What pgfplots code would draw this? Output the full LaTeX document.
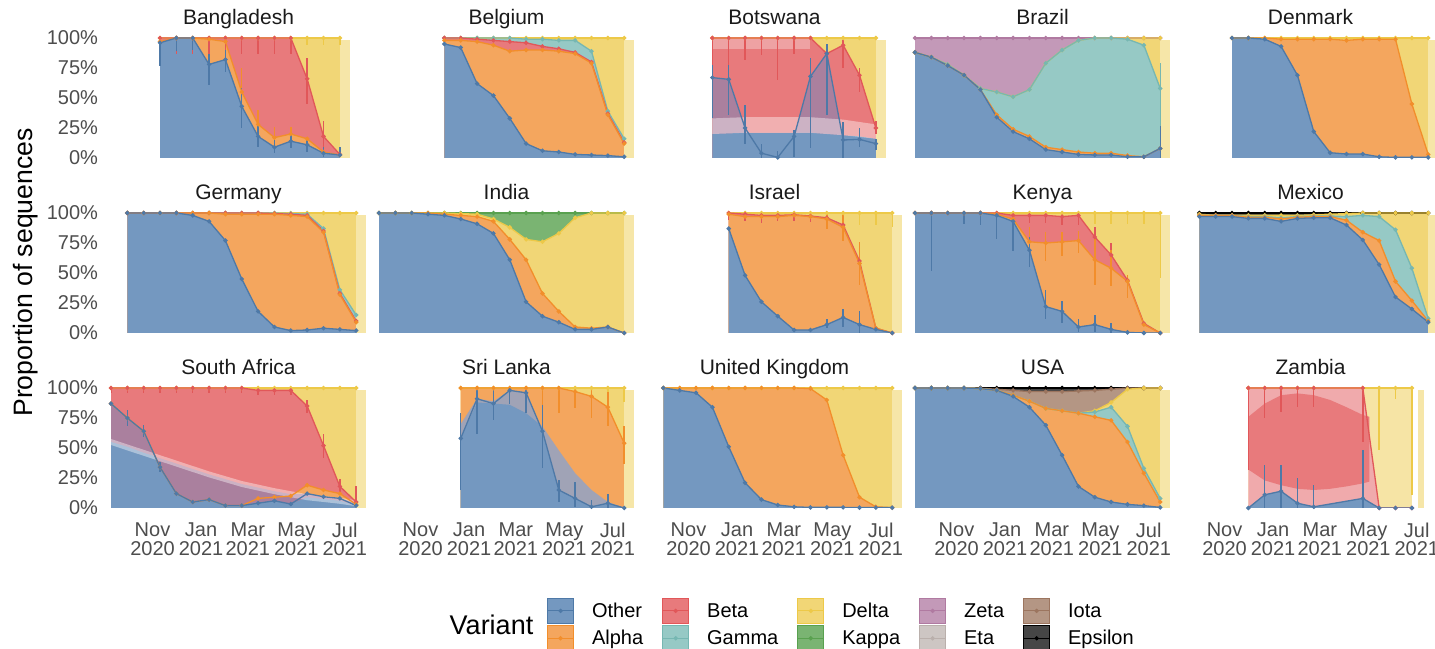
\documentclass[border=0pt]{standalone}
\usepackage{fontspec}
\setmainfont{Liberation Sans}
\usepackage{pgfplots}
\usepackage{pgfplotstable}
\pgfplotsset{compat=1.18}

\definecolor{oF}{RGB}{116,152,192}\definecolor{oL}{RGB}{78,121,167}
\definecolor{aF}{RGB}{244,166,94}\definecolor{aL}{RGB}{242,142,43}
\definecolor{bF}{RGB}{232,122,124}\definecolor{bL}{RGB}{225,87,89}
\definecolor{gF}{RGB}{150,201,197}\definecolor{gL}{RGB}{118,183,178}
\definecolor{dF}{RGB}{241,214,118}\definecolor{dL}{RGB}{237,201,72}
\definecolor{dS}{RGB}{246,230,168}
\definecolor{kF}{RGB}{122,180,114}\definecolor{kL}{RGB}{89,161,79}
\definecolor{zF}{RGB}{195,153,184}\definecolor{zL}{RGB}{176,122,161}
\definecolor{eF}{RGB}{205,198,195}\definecolor{eL}{RGB}{186,176,172}
\definecolor{iF}{RGB}{180,150,132}\definecolor{iL}{RGB}{156,117,95}
\definecolor{xF}{RGB}{70,70,70}\definecolor{xL}{RGB}{0,0,0}
\definecolor{obF}{RGB}{170,128,158}
\definecolor{slF}{RGB}{160,163,182}
\definecolor{bZ}{RGB}{240,170,172}
\definecolor{dZ}{RGB}{246,228,165}
\definecolor{tickgray}{RGB}{77,77,77}
\definecolor{titleblk}{RGB}{26,26,26}

\pgfplotsset{
 panel/.style={scale only axis, width=127.5pt, height=60pt, xmin=0, xmax=15.6, ymin=0, ymax=100,
   anchor=south west, axis line style={draw=none}, tick style={draw=none}, major tick length=0pt,
   xtick=\empty, ytick=\empty, clip=true,
   title style={at={(0.5,1)}, anchor=base, yshift=0.5pt, font=\fontsize{10.5}{12}\selectfont, text=titleblk},
   /pgf/number format/assume math mode=true},
 ylab/.style={ytick={0,25,50,75,100}, yticklabels={0\%,25\%,50\%,75\%,100\%},
   yticklabel style={font=\fontsize{10}{12}\selectfont, text=tickgray, xshift=-3pt}},
 xlab/.style={xtick={2.54,5.51,8.37,11.34,14.3},
   xticklabels={{Nov\\2020},{Jan\\2021},{Mar\\2021},{May\\2021},{Jul\\2021}},
   xticklabel style={align=center, font=\fontsize{10}{9.2}\selectfont, text=tickgray, yshift=-4pt}},
}
\newcommand\Fl[3]{\addplot[draw=none,fill=#2] table[x=k,y=#3]{#1}\closedcycle;}
\newcommand\Ll[3]{\addplot[color=#2,line width=0.65pt,mark=*,mark size=0.75pt] table[x=k,y=#3]{#1};}
\newcommand\Strip[2]{\addplot[draw=none,fill=dS] coordinates {(#1,98)(#2,98)}\closedcycle;}
\newcommand\Eb[2]{\addplot[draw=none, mark=none, error bars/.cd, y dir=both, y explicit, error mark=none, error bar style={draw=#2, line width=0.7pt}] table[x=k,y=y,y error plus=p,y error minus=m]{#1};}
\newcommand\Key[2]{\addlegendimage{legend image code/.code={\filldraw[fill=#1,draw=#2,line width=0.4pt] (0pt,-3pt) rectangle (13pt,9.5pt); \draw[#2,line width=0.5pt] (0pt,3.25pt) -- (13pt,3.25pt); \fill[#2] (6.5pt,3.25pt) circle (0.9pt);}}}

\pgfplotstableread{
k O A B T
3 96 97 100 100
4 100 100 100 100
5 100 100 100 100
6 78 99 100 100
7 82 97 100 100
8 43 55 100 100
9 18 28 100 100
10 9 17 100 100
11 14 20 100 100
12 11 16 66 100
13 4 5 18 100
14 2.5 2.5 3 100
}\tBGD
\pgfplotstableread{
k y p m
3 96 1 19
4 100 0 11
5 100 0 10
6 78 9 17
7 82 8 10
8 43 15 18
9 18 11 9
10 9 6 5
11 14 5 6
12 11 4 6
13 4 5 3
14 2.5 7 2
}\eBGDo
\pgfplotstableread{
k y p m
8 55 20 15
9 28 12 8
10 17 9 4
11 20 6 5
}\eBGDa
\pgfplotstableread{
k y p m
3 100 0 13
4 100 0 13
5 100 0 13
6 100 0 13
7 100 0 13
8 100 0 13
9 100 0 13
10 100 0 13
11 100 0 13
12 66 17 21
13 18 13 9
}\eBGDb
\pgfplotstableread{
k y p m
11 100 0 6
12 100 0 6
13 100 0 6
14 100 0 6
}\eBGDt
\pgfplotstableread{
k O A B G T
4 95 98 100 100 100
5 92 98 100 100 100
6 62 97 99 100 100
7 52 94 98 100 100
8 33 89 97 100 100
9 12 90 96 99 100
10 6 90 93 99 100
11 5 89 91 98 100
12 3 87 88 98 100
13 2.5 79 80 89 100
14 2 36 37 39 100
15 1 12 13 16 100
}\tBEL
\pgfplotstableread{
k O B T
4 67 100 100
5 65.5 100 100
6 25 100 100
7 4 100 100
8 0.5 100 100
9 18 100 100
10 68 100 100
11 87 87 100
12 15 94 100
13 15.5 69 100
14 12 25 100
}\tBWA
\pgfplotstableread{
k y p m
4 67 10.5 34
5 65.5 12 29.5
6 25 19 13
7 4 8 4
8 0.5 5 0.5
9 18 5 17
10 68 15 60
11 87 8 51
12 15 15 15
13 15.5 9.5 6.5
14 12 4 5
}\eBWAo
\pgfplotstableread{
k y p m
4 100 0 30
5 100 0 64
6 100 0 18
7 100 0 14
8 100 0 35
9 100 0 13
12 94 4 19
13 69 6 14
14 25 6 5
}\eBWAb
\pgfplotstableread{
k O A G D T
0 88 88 88 88 100
1 84 84 84 84 100
2 77 77 78 78 100
3 69 69 69 69 100
4 57 57 58 58 100
5 34 36 55 55 100
6 22 24 51 51 100
7 16 18 57 57 100
8 7 9 79 79 100
9 5 7 90 90 100
10 3 5 98 98 100
11 2.5 4 100 100 100
12 2.5 4 100 100 100
13 1 2 99 100 100
14 1 1 94 100 100
15 8 8 58 100 100
}\tBRA
\pgfplotstableread{
k y p m
15 8 19 8
}\eBRAo
\pgfplotstableread{
k y p m
15 58 21 35
}\eBRAg
\pgfplotstableread{
k O A T
3 100 100 100
4 100 100 100
5 99 100 100
6 93 99 100
7 69 99 100
8 22 99 100
9 4.4 99 100
10 3.3 98 100
11 3.3 99 100
12 1 99 100
13 0.5 99 100
14 0.5 45 100
15 0.5 3 100
}\tDNK
\pgfplotstableread{
k O A B G T
1 100 100 100 100 100
2 100 100 100 100 100
3 100 100 100 100 100
4 100 100 100 100 100
5 98 100 100 100 100
6 93 100 100 100 100
7 77 99 100 100 100
8 45 99 100 100 100
9 18 99 100 100 100
10 5 99 99.5 100 100
11 2 98 99 99.5 100
12 2.5 97 98 99 100
13 4 84 85 87 100
14 3 32 33 36 100
15 2 9 10 15 100
}\tDEU
\pgfplotstableread{
k O A D T
0 100 100 100 100
1 100 100 100 100
2 100 100 100 100
3 99 100 100 100
4 98 99 100 100
5 95 98 99.5 100
6 91 97 99 100
7 83 93 95 100
8 61 78 88 100
9 26 61 78 100
10 14 33 76 100
11 9 18 83 100
12 3 5 96 100
13 3 4 100 100
14 5 5 100 100
15 0 0 100 100
}\tIND
\pgfplotstableread{
k O A B T
5 87 99 100 100
6 48 97 99 100
7 26 97 98 100
8 14 97 98 100
9 2.5 98 98.5 100
10 2.5 97 97.5 100
11 7 95 96 100
12 13 88 90 100
13 7 58 60 100
14 3 4 4 100
15 0 0 0 100
}\tISR
\pgfplotstableread{
k y p m
11 7 5 3
12 13 7 8
13 7 11 7
}\eISRo
\pgfplotstableread{
k y p m
11 95 5 8
12 88 10 11
13 58 18 18
}\eISRa
\pgfplotstableread{
k y p m
5 100 0 6
6 99 1 6
7 98 2 6
8 98 2 5
9 98.5 1.5 5
10 97.5 2.5 5
}\eISRb
\pgfplotstableread{
k y p m
11 100 0 10
12 100 0 10
13 100 0 10
14 100 0 10
15 100 0 12
}\eISRt
\pgfplotstableread{
k O A B T
0 100 100 100 100
1 100 100 100 100
2 100 100 100 100
3 100 100 100 100
4 100 100 100 100
5 98 99 100 100
6 93 95 98 100
7 69 76 98 100
8 22 75 98 100
9 18 76 97 100
10 5 77 98 100
11 7 61 80 100
12 3 54 65 100
13 0.5 43 44 100
14 0 7 8 100
15 0 0 0 100
}\tKEN
\pgfplotstableread{
k y p m
1 100 0 48
3 100 0 9
4 100 0 10
5 98 2 20
6 93 7 25
7 69 11 14
8 22 14 10
9 18 9 10
10 5 7 4
11 7 8 6
12 3 5 3
}\eKENo
\pgfplotstableread{
k y p m
7 76 12 14
8 75 9 15
9 76 8 12
10 77 8 10
11 61 19 21
12 54 15 15
13 43 5 14
}\eKENa
\pgfplotstableread{
k y p m
5 100 0 5
6 98 2 6
7 98 2 6
8 98 2 6
9 97 3 7
10 98 2 8
11 80 8 10
12 65 10 12
}\eKENb
\pgfplotstableread{
k y p m
11 100 0 9
12 100 0 9
13 100 0 9
14 100 0 9
15 100 0 54
}\eKENt
\pgfplotstableread{
k O A G D T
1 97 98 98 99 100
2 97 98 98 98 100
3 97 98 98 98 100
4 95.5 96.5 97 98 100
5 95.5 96.5 97 98 100
6 93 95 96 98 100
7 95.5 96.5 97 98 100
8 96 97 97.5 98.5 100
9 96 97 97.5 99 100
10 90 94 97 99.5 100
11 77.5 84 98 100 100
12 57 77 97 100 100
13 30 43 86 100 100
14 20 27 54 100 100
15 9 10 12 100 100
}\tMEX
\pgfplotstableread{
k O A B T
0 87 87 100 100
1 75 75 100 100
2 64 64 100 100
3 34 34 100 100
4 12 12 100 100
5 5 5 100 100
6 7 7 100 100
7 2 2 100 100
8 2 2 100 100
9 4 8 98 100
10 6 9 98 100
11 3.3 10 98 100
12 12 19 85 100
13 9.4 15 52 100
14 8 12 18 100
15 2 3 5 100
}\tZAF
\pgfplotstableread{
k y p m
1 75 7 7
2 64 5 5
3 34 4 4
}\eZAFo
\pgfplotstableread{
k y p m
0 100 0 4
1 100 0 4
2 100 0 4
3 100 0 4
4 100 0 4
5 100 0 4
6 100 0 4
7 100 0 4
8 100 0 4
9 98 2 4
10 98 2 4
11 98 2 4
12 85 5 6
13 52 10 10
14 18 6 6
15 5 13 3
}\eZAFb
\pgfplotstableread{
k O A T
5 58 100 100
6 91 100 100
7 87 100 100
8 98 100 100
9 96 100 100
10 64 100 100
11 15 100 100
12 8 97 100
13 1 93 100
14 4 84 100
15 0 54 100
}\tLKA
\pgfplotstableread{
k y p m
5 58 21 43
6 91 9 29
7 87 11 14
8 98 2 11
9 96 4 17
10 64 22 31
11 15 8 10
12 8 14 7
13 1 6 1
14 4 8 4
}\eLKAo
\pgfplotstableread{
k y p m
10 100 0 34
11 100 0 21
12 97 3 14
13 93 7 18
14 84 13 16
15 54 14 17
}\eLKAa
\pgfplotstableread{
k y p m
12 100 0 8
13 100 0 8
14 100 0 8
15 100 0 12
}\eLKAt
\pgfplotstableread{
k O A T
1 100 100 100
2 98 100 100
3 96 100 100
4 84 100 100
5 51 100 100
6 21 100 100
7 7 100 100
8 2.5 100 100
9 1 100 100
10 0.5 99.5 100
11 0.5 90 100
12 0.5 44 100
13 0.3 9 100
14 0.3 1 100
15 0.3 0.3 100
}\tGBR
\pgfplotstableread{
k O A G D I T
0 100 100 100 100 100 100
1 100 100 100 100 100 100
2 100 100 100 100 100 100
3 100 100 100 100 100 100
4 99.5 99.5 99.5 99.5 99.8 100
5 98 98 98 98 99 100
6 93 94 94 94 98 100
7 84 89 89 89 97 100
8 69 83 83 83 97 100
9 44 81 81 81 97 100
10 18 79 79 79 97.5 100
11 9 76 80 81 98 100
12 5 73 84 88 99 100
13 3 55 68 99 100 100
14 2 29 33 100 100 100
15 0.5 5 8 100 100 100
}\tUSA
\pgfplotstableread{
k O B T
4 0 100 100
5 11 100 100
6 14 100 100
7 4 100 100
8 1 100 100
11 8 100 100
12 0 0 100
13 0 0 100
14 0 0 100
}\tZMB
\pgfplotstableread{
k y p m
5 11 25 11
6 14 22 14
7 4 21 4
8 1 18 1
11 8 40 8
}\eZMBo
\pgfplotstableread{
k y p m
4 100 0 68
5 100 0 25
6 100 0 20
7 100 0 16
8 100 0 16
11 100 0 45
}\eZMBb
\pgfplotstableread{
k y p m
12 100 0 52
13 100 0 9
14 100 0 89
}\eZMBt

\begin{document}
\begin{tikzpicture}
% ---------------- Row 1
\begin{axis}[panel, ylab, at={(55.5pt,245pt)}, title={Bangladesh}]
\Fl{\tBGD}{dF}{T}\Fl{\tBGD}{bF}{B}\Fl{\tBGD}{aF}{A}\Fl{\tBGD}{oF}{O}
\Strip{14}{14.6}
\Eb{\eBGDt}{dL}\Eb{\eBGDb}{bL}\Eb{\eBGDa}{aL}\Eb{\eBGDo}{oL}
\Ll{\tBGD}{dL}{T}\Ll{\tBGD}{bL}{B}\Ll{\tBGD}{aL}{A}\Ll{\tBGD}{oL}{O}
\end{axis}
\begin{axis}[panel, at={(189.5pt,245pt)}, title={Belgium}]
\Fl{\tBEL}{dF}{T}\Fl{\tBEL}{gF}{G}\Fl{\tBEL}{bF}{B}\Fl{\tBEL}{aF}{A}\Fl{\tBEL}{oF}{O}
\Strip{15}{15.6}
\Ll{\tBEL}{dL}{T}\Ll{\tBEL}{gL}{G}\Ll{\tBEL}{bL}{B}\Ll{\tBEL}{aL}{A}\Ll{\tBEL}{oL}{O}
\end{axis}
\begin{axis}[panel, at={(323.5pt,245pt)}, title={Botswana}]
\Fl{\tBWA}{dF}{T}\Fl{\tBWA}{bF}{B}\Fl{\tBWA}{obF}{O}
\addplot[draw=none,fill=oF] coordinates {(4,20)(6,21)(8,21)(10,21)(12,19)(13,18)(14,16)(14.6,10)}\closedcycle;
\addplot[draw=none,fill=white,fill opacity=0.4] coordinates {(4,33)(6,34)(8,34)(10,34)(12,32)(14,28)(14.6,24)(14.6,10)(14,16)(12,19)(10,21)(8,21)(6,21)(4,20)} -- cycle;
\addplot[draw=none,fill=white,fill opacity=0.3] coordinates {(4,100)(10,100)(10,91)(4,91)} -- cycle;
\Strip{14}{14.6}
\Eb{\eBWAb}{bL}\Eb{\eBWAo}{oL}
\Ll{\tBWA}{dL}{T}\Ll{\tBWA}{bL}{B}\Ll{\tBWA}{oL}{O}
\end{axis}
\begin{axis}[panel, at={(457.5pt,245pt)}, title={Brazil}]
\Fl{\tBRA}{zF}{T}\Fl{\tBRA}{dF}{D}\Fl{\tBRA}{gF}{G}\Fl{\tBRA}{aF}{A}\Fl{\tBRA}{oF}{O}
\Strip{15}{15.6}
\Eb{\eBRAg}{gL}\Eb{\eBRAo}{oL}
\Ll{\tBRA}{zL}{T}\Ll{\tBRA}{dL}{D}\Ll{\tBRA}{gL}{G}\Ll{\tBRA}{aL}{A}\Ll{\tBRA}{oL}{O}
\end{axis}
\begin{axis}[panel, at={(591.5pt,245pt)}, title={Denmark}]
\Fl{\tDNK}{dF}{T}\Fl{\tDNK}{aF}{A}\Fl{\tDNK}{oF}{O}
\Strip{15}{15.6}
\Ll{\tDNK}{dL}{T}\Ll{\tDNK}{aL}{A}\Ll{\tDNK}{oL}{O}
\end{axis}
% ---------------- Row 2
\begin{axis}[panel, ylab, at={(55.5pt,157.5pt)}, title={Germany}]
\Fl{\tDEU}{dF}{T}\Fl{\tDEU}{gF}{G}\Fl{\tDEU}{bF}{B}\Fl{\tDEU}{aF}{A}\Fl{\tDEU}{oF}{O}
\Strip{15}{15.6}
\Ll{\tDEU}{dL}{T}\Ll{\tDEU}{gL}{G}\Ll{\tDEU}{bL}{B}\Ll{\tDEU}{aL}{A}\Ll{\tDEU}{oL}{O}
\end{axis}
\begin{axis}[panel, at={(189.5pt,157.5pt)}, title={India}]
\Fl{\tIND}{kF}{T}\Fl{\tIND}{dF}{D}\Fl{\tIND}{aF}{A}\Fl{\tIND}{oF}{O}
\Strip{15}{15.6}
\Ll{\tIND}{kL}{T}\Ll{\tIND}{dL}{D}\Ll{\tIND}{aL}{A}\Ll{\tIND}{oL}{O}
\end{axis}
\begin{axis}[panel, at={(323.5pt,157.5pt)}, title={Israel}]
\Fl{\tISR}{dF}{T}\Fl{\tISR}{bF}{B}\Fl{\tISR}{aF}{A}\Fl{\tISR}{oF}{O}
\Strip{15}{15.6}
\Eb{\eISRt}{dL}\Eb{\eISRb}{bL}\Eb{\eISRa}{aL}\Eb{\eISRo}{oL}
\Ll{\tISR}{dL}{T}\Ll{\tISR}{bL}{B}\Ll{\tISR}{aL}{A}\Ll{\tISR}{oL}{O}
\end{axis}
\begin{axis}[panel, at={(457.5pt,157.5pt)}, title={Kenya}]
\Fl{\tKEN}{dF}{T}\Fl{\tKEN}{bF}{B}\Fl{\tKEN}{aF}{A}\Fl{\tKEN}{oF}{O}
\Strip{15}{15.6}
\Eb{\eKENt}{dL}\Eb{\eKENb}{bL}\Eb{\eKENa}{aL}\Eb{\eKENo}{oL}
\Ll{\tKEN}{dL}{T}\Ll{\tKEN}{bL}{B}\Ll{\tKEN}{aL}{A}\Ll{\tKEN}{oL}{O}
\end{axis}
\begin{axis}[panel, at={(591.5pt,157.5pt)}, title={Mexico}]
\Fl{\tMEX}{xF}{T}\Fl{\tMEX}{dF}{D}\Fl{\tMEX}{gF}{G}\Fl{\tMEX}{aF}{A}\Fl{\tMEX}{oF}{O}
\Strip{15}{15.6}
\Ll{\tMEX}{xL}{T}\Ll{\tMEX}{dL}{D}\Ll{\tMEX}{gL}{G}\Ll{\tMEX}{aL}{A}\Ll{\tMEX}{oL}{O}
\end{axis}
% ---------------- Row 3
\begin{axis}[panel, ylab, xlab, at={(55.5pt,70pt)}, title={South Africa}]
\Fl{\tZAF}{dF}{T}\Fl{\tZAF}{bF}{B}\Fl{\tZAF}{aF}{A}
\addplot[draw=none,fill=obF] coordinates {(0,87)(1,75)(2,64)(2.7,43)(3,41.5)(4,37)(5,32.5)(6,28)(7,24)(8,20)(9,17)(10,14)(11,11.5)(12,12)(13,9.4)(14,8)(15,4)}\closedcycle;
\addplot[draw=none,fill=oF] coordinates {(0,55)(1,51)(2,46)(2.7,43)(3,34)(4,12)(5,5)(6,7)(7,2)(8,2)(9,4)(10,6)(11,3.3)(12,9)(13,7.5)(14,6)(15,2)}\closedcycle;
\addplot[draw=none,fill=white,fill opacity=0.4] coordinates {(0,57.5)(2,48.5)(4,39.5)(6,30.5)(8,22.5)(10,16.5)(12,11.5)(14,8.5)(15,6.5)(15,1.5)(14,3.5)(12,6.5)(10,11.5)(8,17.5)(6,25.5)(4,34.5)(2,43.5)(0,52.5)} -- cycle;
\Strip{15}{15.6}
\Eb{\eZAFb}{bL}\Eb{\eZAFo}{oL}
\Ll{\tZAF}{dL}{T}\Ll{\tZAF}{bL}{B}\Ll{\tZAF}{aL}{A}\Ll{\tZAF}{oL}{O}
\end{axis}
\begin{axis}[panel, xlab, at={(189.5pt,70pt)}, title={Sri Lanka}]
\Fl{\tLKA}{dF}{T}\Fl{\tLKA}{aF}{A}
\addplot[draw=none,fill=slF] coordinates {(5,70)(6,91)(7,89)(8,98)(9,96)(9.81,70)(10,68)(11,48)(12,29)(13,15)(14,5)(15,0)}\closedcycle;
\addplot[draw=none,fill=oF] coordinates {(5,58)(6,88)(7,87)(8,86)(9,79)(9.81,70)(10,64)(11,15)(12,8)(13,1)(14,4)(15,0)}\closedcycle;
\Strip{15}{15.6}
\Eb{\eLKAt}{dL}\Eb{\eLKAa}{aL}\Eb{\eLKAo}{oL}
\Ll{\tLKA}{dL}{T}\Ll{\tLKA}{aL}{A}\Ll{\tLKA}{oL}{O}
\end{axis}
\begin{axis}[panel, xlab, at={(323.5pt,70pt)}, title={United Kingdom}]
\Fl{\tGBR}{dF}{T}\Fl{\tGBR}{aF}{A}\Fl{\tGBR}{oF}{O}
\Strip{15}{15.6}
\Ll{\tGBR}{dL}{T}\Ll{\tGBR}{aL}{A}\Ll{\tGBR}{oL}{O}
\end{axis}
\begin{axis}[panel, xlab, at={(457.5pt,70pt)}, title={USA}]
\Fl{\tUSA}{xF}{T}\Fl{\tUSA}{iF}{I}\Fl{\tUSA}{dF}{D}\Fl{\tUSA}{gF}{G}\Fl{\tUSA}{aF}{A}\Fl{\tUSA}{oF}{O}
\Strip{15}{15.6}
\Ll{\tUSA}{xL}{T}\Ll{\tUSA}{iL}{I}\Ll{\tUSA}{dL}{D}\Ll{\tUSA}{gL}{G}\Ll{\tUSA}{aL}{A}\Ll{\tUSA}{oL}{O}
\end{axis}
\begin{axis}[panel, xlab, at={(591.5pt,70pt)}, title={Zambia}]
\Fl{\tZMB}{dZ}{T}\Fl{\tZMB}{bZ}{B}
\addplot[draw=none,fill=bF] coordinates {(4,76)(5,87)(6,94)(7,95.5)(8,94)(9,90)(10,84)(11,77.5)(11.4,76)(11.4,22)(11,20.5)(10,18)(9,16)(8,15)(7,16)(6,19)(5,23)(4,32)} -- cycle;
\Fl{\tZMB}{oF}{O}
\addplot[draw=none,fill=dS] coordinates {(14.35,98)(14.75,98)}\closedcycle;
\Eb{\eZMBt}{dL}\Eb{\eZMBb}{bL}\Eb{\eZMBo}{oL}
\Ll{\tZMB}{dL}{T}\Ll{\tZMB}{bL}{B}\Ll{\tZMB}{oL}{O}
\end{axis}
% ---------------- Legend
\begin{axis}[at={(0pt,0pt)}, anchor=south west, scale only axis, width=717.5pt, height=324pt,
  xmin=0, xmax=1, ymin=0, ymax=1, hide axis, legend columns=5,
  legend style={at={(0.3812,0.0772)}, anchor=north west, draw=none, fill=none, inner sep=0pt, outer sep=0pt,
   row sep=0.5pt, font=\fontsize{10}{12}\selectfont, cells={anchor=base west, inner sep=0pt},
   /tikz/every odd column/.append style={column sep=7pt},
   /tikz/every even column/.append style={column sep=7.5pt}}]
\Key{oF}{oL}\addlegendentry{Other}
\Key{bF}{bL}\addlegendentry{Beta}
\Key{dF}{dL}\addlegendentry{Delta}
\Key{zF}{zL}\addlegendentry{Zeta}
\Key{iF}{iL}\addlegendentry{Iota}
\Key{aF}{aL}\addlegendentry{Alpha}
\Key{gF}{gL}\addlegendentry{Gamma}
\Key{kF}{kL}\addlegendentry{Kappa}
\Key{eF}{eL}\addlegendentry{Eta}
\Key{xF}{xL}\addlegendentry{Epsilon}
\end{axis}
\node[anchor=base, font=\fontsize{13.5}{14}\selectfont] at (245.75pt,6.5pt) {Variant};
\node[rotate=90, anchor=base, font=\fontsize{13.3}{14}\selectfont] at (16pt,187.75pt) {Proportion of sequences};
\pgfresetboundingbox
\path[use as bounding box] (0pt,0pt) rectangle (717.5pt,324pt);
\end{tikzpicture}
\end{document}
